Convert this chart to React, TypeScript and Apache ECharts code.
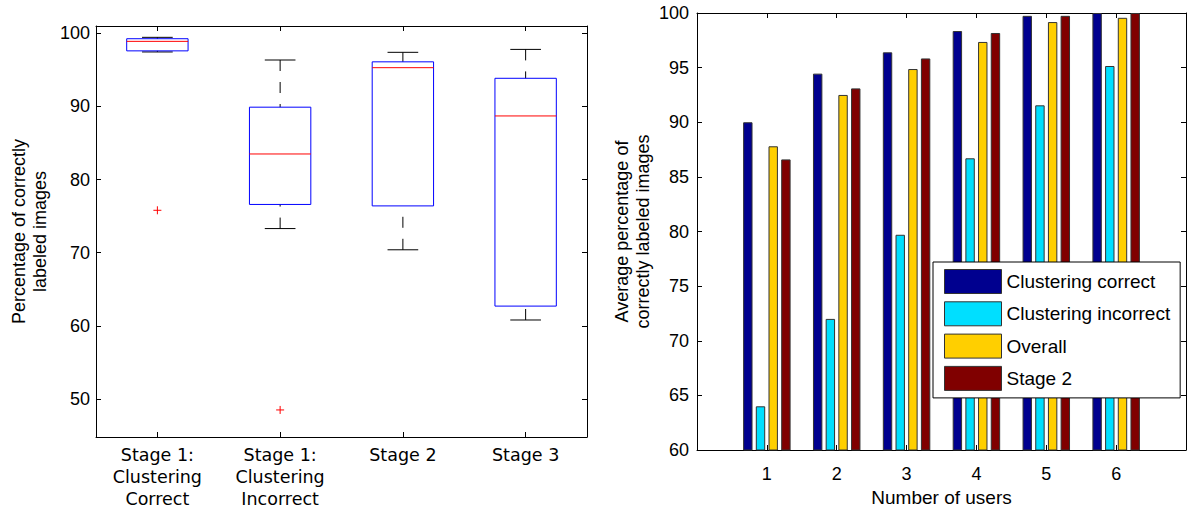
import React, { useEffect, useRef } from 'react';
import * as echarts from 'echarts';

// ---------- Left chart: box plot ----------
const stageLabels = [
  'Stage 1:\nClustering\nCorrect',
  'Stage 1:\nClustering\nIncorrect',
  'Stage 2',
  'Stage 3',
];
const whiskerLow = [97.45, 73.3, 70.4, 60.8];
const quartile1 = [97.6, 76.6, 76.4, 62.7];
const medians = [98.9, 83.5, 95.3, 88.7];
const quartile3 = [99.26, 89.9, 96.1, 93.85];
const whiskerHigh = [99.45, 96.35, 97.4, 97.8];
const outlierStage = [0, 1];
const outlierValues = [75.8, 48.5];
const leftTicks = [50, 60, 70, 80, 90, 100];

// ---------- Right chart: grouped bars ----------
const users = ['1', '2', '3', '4', '5', '6'];
const clusteringCorrect = [90.0, 94.45, 96.4, 98.35, 99.74, 100];
const clusteringIncorrect = [64.0, 72.0, 79.7, 86.7, 91.55, 95.15];
const overall = [87.8, 92.5, 94.87, 97.35, 99.17, 99.56];
const stage2 = [86.6, 93.1, 95.84, 98.17, 99.74, 100];
const seriesNames = ['Clustering correct', 'Clustering incorrect', 'Overall', 'Stage 2'];
const seriesColors = ['#00008f', '#00dfff', '#ffcf00', '#800000'];

const SANS = 'Liberation Sans, Arial, sans-serif';
const DEJAVU = 'DejaVu Sans, sans-serif';

export default function App() {
  const ref = useRef<HTMLDivElement>(null);

  useEffect(() => {
    if (!ref.current) return;
    const chart = echarts.init(ref.current, undefined, { renderer: 'svg' });

    const boxData = stageLabels.map((_, i) => [
      i,
      whiskerLow[i],
      quartile1[i],
      medians[i],
      quartile3[i],
      whiskerHigh[i],
    ]);
    const outlierData = outlierStage.map((s, i) => [s, outlierValues[i]]);

    const xCats = ['', ...users, ''];
    const pad = (arr: number[]) => [null, ...arr, null];
    const barSets = [clusteringCorrect, clusteringIncorrect, overall, stage2];

    const tickCommon = { show: true, inside: true, length: 5, lineStyle: { color: '#000' } };
    const lineCommon = { show: true, onZero: false, lineStyle: { color: '#000', width: 1 } };

    const option: any = {
      animation: false,
      backgroundColor: '#fff',
      grid: [
        { left: 96, top: 26, width: 491, height: 411 },
        { left: 697, top: 13, width: 489, height: 441 },
      ],
      legend: {
        orient: 'vertical',
        left: 933,
        top: 262,
        data: seriesNames,
        icon: 'rect',
        itemWidth: 57,
        itemHeight: 24,
        itemGap: 7.3,
        padding: [7, 10, 7, 11],
        borderColor: '#000',
        borderWidth: 1,
        borderRadius: 0,
        backgroundColor: '#fff',
        itemStyle: { borderColor: '#333', borderWidth: 1 },
        textStyle: { fontFamily: SANS, fontSize: 19, color: '#000' },
      },
      xAxis: [
        {
          gridIndex: 0,
          type: 'category',
          data: stageLabels,
          boundaryGap: true,
          position: 'bottom',
          axisLine: lineCommon,
          axisTick: { ...tickCommon, alignWithLabel: true },
          axisLabel: {
            interval: 0,
            margin: 7,
            fontFamily: DEJAVU,
            fontSize: 17.5,
            lineHeight: 22,
            color: '#000',
          },
          splitLine: { show: false },
        },
        {
          gridIndex: 0,
          type: 'category',
          data: stageLabels,
          boundaryGap: true,
          position: 'top',
          axisLine: lineCommon,
          axisTick: { ...tickCommon, alignWithLabel: true },
          axisLabel: { show: false },
          splitLine: { show: false },
        },
        {
          gridIndex: 1,
          type: 'category',
          data: xCats,
          boundaryGap: false,
          position: 'bottom',
          axisLine: lineCommon,
          axisTick: { ...tickCommon, interval: (i: number) => i > 0 && i < xCats.length - 1 },
          axisLabel: {
            interval: 0,
            margin: 15,
            fontFamily: SANS,
            fontSize: 18,
            color: '#000',
          },
          name: 'Number of users',
          nameLocation: 'middle',
          nameGap: 38,
          nameTextStyle: { fontFamily: SANS, fontSize: 19, color: '#000' },
          splitLine: { show: false },
        },
        {
          gridIndex: 1,
          type: 'category',
          data: xCats,
          boundaryGap: false,
          position: 'top',
          axisLine: lineCommon,
          axisTick: { ...tickCommon, interval: (i: number) => i > 0 && i < xCats.length - 1 },
          axisLabel: { show: false },
          splitLine: { show: false },
        },
      ],
      yAxis: [
        {
          gridIndex: 0,
          type: 'value',
          min: 44.8,
          max: 101,
          position: 'left',
          axisLine: lineCommon,
          axisTick: { ...tickCommon, customValues: leftTicks },
          axisLabel: {
            customValues: leftTicks,
            margin: 6,
            fontFamily: SANS,
            fontSize: 18,
            color: '#000',
          },
          splitLine: { show: false },
          name: 'Percentage of correctly\nlabeled images',
          nameLocation: 'middle',
          nameGap: 46,
          nameTextStyle: { fontFamily: SANS, fontSize: 18, lineHeight: 21, color: '#000' },
        },
        {
          gridIndex: 0,
          type: 'value',
          min: 44.8,
          max: 101,
          position: 'right',
          axisLine: lineCommon,
          axisTick: { ...tickCommon, customValues: leftTicks },
          axisLabel: { show: false },
          splitLine: { show: false },
        },
        {
          gridIndex: 1,
          type: 'value',
          min: 60,
          max: 100,
          interval: 5,
          position: 'left',
          axisLine: lineCommon,
          axisTick: tickCommon,
          axisLabel: { margin: 8, fontFamily: SANS, fontSize: 18, color: '#000' },
          splitLine: { show: false },
          name: 'Average percentage of\ncorrectly labeled images',
          nameLocation: 'middle',
          nameGap: 44,
          nameTextStyle: { fontFamily: SANS, fontSize: 18, lineHeight: 21, color: '#000' },
        },
        {
          gridIndex: 1,
          type: 'value',
          min: 60,
          max: 100,
          interval: 5,
          position: 'right',
          axisLine: lineCommon,
          axisTick: tickCommon,
          axisLabel: { show: false },
          splitLine: { show: false },
        },
      ],
      series: [
        {
          type: 'custom',
          name: 'box',
          xAxisIndex: 0,
          yAxisIndex: 0,
          data: boxData,
          encode: { x: 0, y: [1, 2, 3, 4, 5] },
          renderItem: (params: any, api: any) => {
            const i = api.value(0);
            const lo = api.coord([i, api.value(1)]);
            const q1 = api.coord([i, api.value(2)]);
            const md = api.coord([i, api.value(3)]);
            const q3 = api.coord([i, api.value(4)]);
            const hi = api.coord([i, api.value(5)]);
            const band = api.size([1, 0])[0];
            const bw = band * 0.5;
            const cw = band * 0.25;
            const x = lo[0];
            const black = { stroke: '#000', lineWidth: 1, fill: null };
            const dash = { stroke: '#000', lineWidth: 1, lineDash: [11, 11], fill: null };
            return {
              type: 'group',
              children: [
                { type: 'line', shape: { x1: x, y1: hi[1], x2: x, y2: q3[1] }, style: dash },
                { type: 'line', shape: { x1: x, y1: lo[1], x2: x, y2: q1[1] }, style: dash },
                { type: 'line', shape: { x1: x - cw / 2, y1: hi[1], x2: x + cw / 2, y2: hi[1] }, style: black },
                { type: 'line', shape: { x1: x - cw / 2, y1: lo[1], x2: x + cw / 2, y2: lo[1] }, style: black },
                {
                  type: 'rect',
                  shape: { x: x - bw / 2, y: q3[1], width: bw, height: q1[1] - q3[1] },
                  style: { stroke: '#0000ff', lineWidth: 1, fill: 'none' },
                },
                {
                  type: 'line',
                  shape: { x1: x - bw / 2, y1: md[1], x2: x + bw / 2, y2: md[1] },
                  style: { stroke: '#ff0000', lineWidth: 1 },
                },
              ],
            };
          },
          z: 3,
        },
        {
          type: 'custom',
          name: 'outliers',
          xAxisIndex: 0,
          yAxisIndex: 0,
          data: outlierData,
          encode: { x: 0, y: 1 },
          renderItem: (params: any, api: any) => {
            const p = api.coord([api.value(0), api.value(1)]);
            const h = 4;
            const st = { stroke: '#ff0000', lineWidth: 1 };
            return {
              type: 'group',
              children: [
                { type: 'line', shape: { x1: p[0] - h, y1: p[1], x2: p[0] + h, y2: p[1] }, style: st },
                { type: 'line', shape: { x1: p[0], y1: p[1] - h, x2: p[0], y2: p[1] + h }, style: st },
              ],
            };
          },
          z: 3,
        },
        ...barSets.map((arr, k) => ({
          type: 'bar',
          name: seriesNames[k],
          xAxisIndex: 2,
          yAxisIndex: 2,
          data: pad(arr),
          barWidth: 9.4,
          barGap: '35%',
          itemStyle: { color: seriesColors[k], borderColor: '#333', borderWidth: 1 },
        })),
      ],
    };

    chart.setOption(option);
    return () => chart.dispose();
  }, []);

  return (
    <div
      ref={ref}
      style={{ position: 'absolute', left: 0, top: 0, width: 1192, height: 512, background: '#fff' }}
    />
  );
}
